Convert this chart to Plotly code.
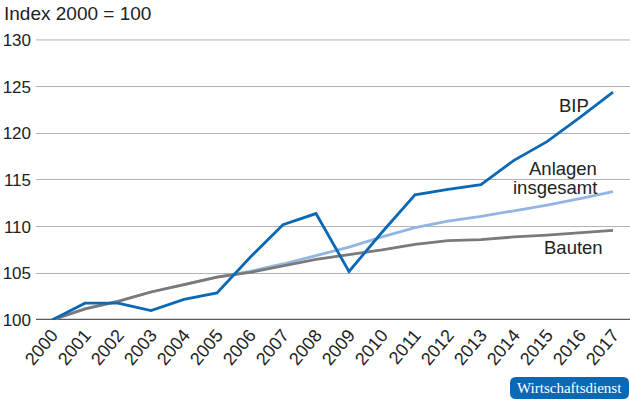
import plotly.graph_objects as go

years = list(range(2000, 2018))
bip = [100, 101.8, 101.8, 101.0, 102.2, 102.9, 106.7, 110.2, 111.4, 105.2,
       109.4, 113.4, 114.0, 114.5, 117.1, 119.1, 121.7, 124.4]
anlagen = [100, 101.2, 102.0, 103.0, 103.8, 104.6, 105.2, 106.0, 106.9, 107.8,
           108.9, 109.9, 110.6, 111.1, 111.7, 112.3, 113.0, 113.75]
bauten = [100, 101.2, 102.0, 103.0, 103.8, 104.6, 105.1, 105.8, 106.5, 107.0,
          107.5, 108.1, 108.5, 108.6, 108.9, 109.1, 109.35, 109.6]
y_ticks = [100, 105, 110, 115, 120, 125, 130]

W, H = 630, 404
L, R, T, B = 36, 0, 39, 84
pw, ph = W - L - R, H - T - B

def px(x):
    return (x - L) / pw

def py(y):
    return (H - B - y) / ph

fig = go.Figure()
fig.add_trace(go.Scatter(x=years, y=anlagen, mode="lines",
                         line=dict(color="#93b5e3", width=2.8), name="Anlagen insgesamt"))
fig.add_trace(go.Scatter(x=years, y=bauten, mode="lines",
                         line=dict(color="#7a7a7a", width=2.8), name="Bauten"))
fig.add_trace(go.Scatter(x=years, y=bip, mode="lines",
                         line=dict(color="#0a68b4", width=2.8), name="BIP"))

font = "Liberation Sans, Arial, Helvetica, sans-serif"

# rounded badge
x0, x1, y0, y1, r = 510, 629, 377, 399, 6
pathpts = (
    f"M {px(x0 + r)} {py(y0)} L {px(x1 - r)} {py(y0)} "
    f"Q {px(x1)} {py(y0)} {px(x1)} {py(y0 + r)} "
    f"L {px(x1)} {py(y1 - r)} Q {px(x1)} {py(y1)} {px(x1 - r)} {py(y1)} "
    f"L {px(x0 + r)} {py(y1)} Q {px(x0)} {py(y1)} {px(x0)} {py(y1 - r)} "
    f"L {px(x0)} {py(y0 + r)} Q {px(x0)} {py(y0)} {px(x0 + r)} {py(y0)} Z"
)

lbl = dict(size=18.5, color="#222222")

fig.update_layout(
    width=W, height=H,
    margin=dict(l=L, r=R, t=T, b=B),
    paper_bgcolor="white", plot_bgcolor="white",
    showlegend=False,
    font=dict(family=font, size=17, color="#222222"),
    xaxis=dict(range=[1999.515, 2017.515], tickmode="array", tickvals=years,
               ticktext=[str(y) for y in years], tickangle=-50,
               showgrid=False, zeroline=False, showline=False, ticks="",
               tickfont=dict(size=18, color="#222222")),
    yaxis=dict(range=[100, 130.1], tickmode="array", tickvals=y_ticks,
               showgrid=True, gridcolor="#b4b4b4", gridwidth=1,
               zeroline=False, showline=False, ticks="",
               tickfont=dict(size=17, color="#222222"), ticklabelstandoff=4),
    shapes=[
        dict(type="line", xref="paper", yref="y", x0=0, x1=1, y0=130, y1=130,
             line=dict(color="#b4b4b4", width=1), layer="below"),
        dict(type="line", xref="paper", yref="y", x0=0, x1=1, y0=100, y1=100,
             line=dict(color="#5a5a5a", width=2.5), layer="below"),
        dict(type="path", xref="paper", yref="paper", path=pathpts,
             fillcolor="#0a68b4", line=dict(width=0)),
    ],
    annotations=[
        dict(text="Index 2000 = 100", xref="paper", yref="paper", x=px(2), y=py(13),
             xanchor="left", yanchor="middle", showarrow=False,
             font=dict(size=19, color="#222222")),
        dict(text="BIP", xref="paper", yref="paper", x=px(574), y=py(105),
             xanchor="center", yanchor="middle", showarrow=False, font=lbl),
        dict(text="Anlagen", xref="paper", yref="paper", x=px(599), y=py(168),
             xanchor="right", yanchor="middle", showarrow=False, font=lbl),
        dict(text="insgesamt", xref="paper", yref="paper", x=px(599), y=py(187),
             xanchor="right", yanchor="middle", showarrow=False, font=lbl),
        dict(text="Bauten", xref="paper", yref="paper", x=px(573), y=py(247),
             xanchor="center", yanchor="middle", showarrow=False, font=lbl),
        dict(text="Wirtschaftsdienst", xref="paper", yref="paper", x=px((x0 + x1) / 2),
             y=py((y0 + y1) / 2), xanchor="center", yanchor="middle", showarrow=False,
             font=dict(family="Liberation Serif, Times New Roman, serif", size=15,
                       color="white")),
    ],
)

fig.write_html("out.html", config={"displayModeBar": False},
               post_script="document.body.style.margin='0';document.body.style.padding='0';")
